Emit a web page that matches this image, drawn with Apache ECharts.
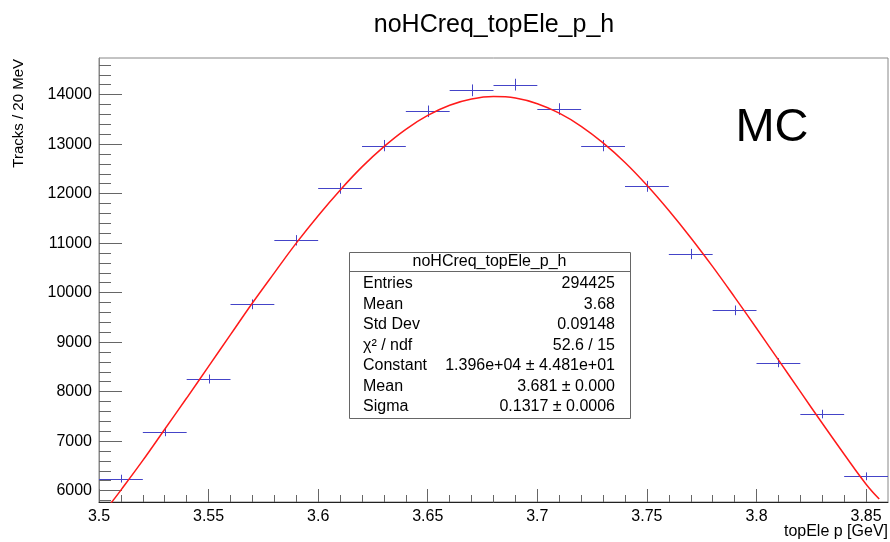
<!DOCTYPE html>
<html><head><meta charset="utf-8">
<script src="https://cdn.jsdelivr.net/npm/echarts@6/dist/echarts.min.js"></script>
<style>html,body{margin:0;padding:0;background:#fff}#c{width:890px;height:542px}</style>
</head><body><div id="c"></div>
<script>
// ---- data ----
const binCenters = [3.51, 3.53, 3.55, 3.57, 3.59, 3.61, 3.63, 3.65, 3.67, 3.69, 3.71, 3.73, 3.75, 3.77, 3.79, 3.81, 3.83, 3.85];
const binWidth = 0.02;
const counts = [6242, 7184, 8255, 9764, 11057, 12107, 12970, 13663, 14087, 14202, 13709, 12970, 12147, 10780, 9642, 8586, 7547, 6289];
const errors = [79, 85, 91, 99, 105, 110, 114, 117, 119, 119, 117, 114, 110, 104, 98, 93, 87, 79];
const fitX = [3.505, 3.51, 3.52, 3.53, 3.54, 3.55, 3.56, 3.57, 3.58, 3.59, 3.60, 3.61, 3.62, 3.63, 3.64, 3.65, 3.66, 3.67, 3.68, 3.69, 3.70, 3.71, 3.72, 3.73, 3.74, 3.75, 3.76, 3.77, 3.78, 3.79, 3.80, 3.81, 3.82, 3.83, 3.84, 3.85, 3.856];
const fitY = [5720, 6010, 6610, 7240, 7870, 8510, 9150, 9790, 10400, 11000, 11555, 12070, 12540, 12950, 13300, 13580, 13785, 13910, 13960, 13930, 13815, 13625, 13360, 13025, 12630, 12170, 11660, 11110, 10525, 9910, 9280, 8640, 8000, 7360, 6735, 6130, 5830];
const xMajorTicks = [3.5, 3.55, 3.6, 3.65, 3.7, 3.75, 3.8, 3.85];
const xMinorTicks = [3.51, 3.52, 3.53, 3.54, 3.56, 3.57, 3.58, 3.59, 3.61, 3.62, 3.63, 3.64, 3.66, 3.67, 3.68, 3.69, 3.71, 3.72, 3.73, 3.74, 3.76, 3.77, 3.78, 3.79, 3.81, 3.82, 3.83, 3.84];
const yMajorTicks = [6000, 7000, 8000, 9000, 10000, 11000, 12000, 13000, 14000];
const yMinorTicks = [5800, 6200, 6400, 6600, 6800, 7200, 7400, 7600, 7800, 8200, 8400, 8600, 8800, 9200, 9400, 9600, 9800, 10200, 10400, 10600, 10800, 11200, 11400, 11600, 11800, 12200, 12400, 12600, 12800, 13200, 13400, 13600, 13800, 14200, 14400, 14600];
const xRange = [3.5, 3.86];
const yRange = [5770, 14740];
const titleText = 'noHCreq_topEle_p_h';
const xTitle = 'topEle p [GeV]';
const yTitle = 'Tracks / 20 MeV';
const statsTitle = 'noHCreq_topEle_p_h';
const statsLabels = ['Entries', 'Mean', 'Std Dev', 'χ² / ndf', 'Constant', 'Mean', 'Sigma'];
const statsValues = ['294425', '3.68', '0.09148', '52.6 / 15', '1.396e+04 ± 4.481e+01', '3.681 ± 0.000', '0.1317 ± 0.0006'];

// ---- chart ----
const FONT = '"Liberation Sans", Arial, Helvetica, sans-serif';
const BLUE = '#4444c8';
const RED = '#ff1a1a';
const chart = echarts.init(document.getElementById('c'), null, {renderer: 'canvas'});

const histData = binCenters.map((c, i) => [c, counts[i], errors[i]]);
const fitData = fitX.map((x, i) => [x, fitY[i]]);

const GL = 99, GT = 58, GW = 789, GH = 444;

const graphics = [];
graphics.push({type: 'text', z: 100, x: 494, y: 25, style: {text: titleText, font: '25px ' + FONT, fill: '#000', align: 'center', verticalAlign: 'middle'}});
graphics.push({type: 'text', z: 100, x: 772, y: 128, style: {text: 'MC', font: '47px ' + FONT, fill: '#000', align: 'center', verticalAlign: 'middle'}});
graphics.push({type: 'text', z: 100, x: 888, y: 532, style: {text: xTitle, font: '16px ' + FONT, fill: '#000', align: 'right', verticalAlign: 'middle'}});
graphics.push({type: 'text', z: 100, x: 19, y: 59, rotation: Math.PI / 2, style: {text: yTitle, font: '15px ' + FONT, fill: '#000', align: 'right', verticalAlign: 'middle'}});
// stats box
const BX = 349, BY = 252, BW = 281, BH = 166;
graphics.push({type: 'rect', z: 100, shape: {x: BX + 0.5, y: BY + 0.5, width: BW, height: BH}, style: {fill: '#fff', stroke: '#666', lineWidth: 1}});
graphics.push({type: 'line', z: 101, shape: {x1: BX, y1: 271.5, x2: BX + BW, y2: 271.5}, style: {stroke: '#666', lineWidth: 1}});
graphics.push({type: 'text', z: 101, x: BX + BW / 2, y: 262, style: {text: statsTitle, font: '16px ' + FONT, fill: '#000', align: 'center', verticalAlign: 'middle'}});
statsLabels.forEach((lab, i) => {
  const y = 284 + i * 20.5;
  graphics.push({type: 'text', z: 101, x: 363, y: y, style: {text: lab, font: '16px ' + FONT, fill: '#000', align: 'left', verticalAlign: 'middle'}});
  graphics.push({type: 'text', z: 101, x: 615, y: y, style: {text: statsValues[i], font: '16px ' + FONT, fill: '#000', align: 'right', verticalAlign: 'middle'}});
});

const option = {
  backgroundColor: '#fff',
  animation: false,
  grid: {left: GL, top: GT, width: GW, height: GH, show: true, borderColor: '#888', borderWidth: 1, containLabel: false},
  xAxis: [{
    type: 'value', min: xRange[0], max: xRange[1], position: 'bottom',
    axisLine: {show: true, onZero: false, lineStyle: {color: '#222', width: 1}},
    axisTick: {show: true, inside: true, length: 13, lineStyle: {color: '#666'}, customValues: xMajorTicks},
    axisLabel: {show: true, margin: 7, color: '#000', fontSize: 16, fontFamily: FONT, customValues: xMajorTicks, formatter: v => String(+v.toFixed(2))},
    splitLine: {show: false}
  }, {
    type: 'value', min: xRange[0], max: xRange[1], position: 'bottom',
    axisLine: {show: false},
    axisTick: {show: true, inside: true, length: 7, lineStyle: {color: '#666'}, customValues: xMinorTicks},
    axisLabel: {show: false},
    splitLine: {show: false}
  }],
  yAxis: [{
    type: 'value', min: yRange[0], max: yRange[1], position: 'left',
    axisLine: {show: true, onZero: false, lineStyle: {color: '#888', width: 1}},
    axisTick: {show: true, inside: true, length: 23, lineStyle: {color: '#666'}, customValues: yMajorTicks},
    axisLabel: {show: true, margin: 7, color: '#000', fontSize: 16, fontFamily: FONT, customValues: yMajorTicks, formatter: v => String(v)},
    splitLine: {show: false}
  }, {
    type: 'value', min: yRange[0], max: yRange[1], position: 'left',
    axisLine: {show: false},
    axisTick: {show: true, inside: true, length: 12, lineStyle: {color: '#666'}, customValues: yMinorTicks},
    axisLabel: {show: false},
    splitLine: {show: false}
  }],
  series: [{
    type: 'custom', name: 'hist', xAxisIndex: 0, yAxisIndex: 0, z: 3,
    data: histData,
    renderItem(params, api) {
      const x = api.value(0), y = api.value(1), e = api.value(2);
      const pL = api.coord([x - binWidth / 2, y]);
      const pR = api.coord([x + binWidth / 2, y]);
      const pT = api.coord([x, y + e]);
      const pB = api.coord([x, y - e]);
      const st = {stroke: BLUE, lineWidth: 1};
      return {type: 'group', children: [
        {type: 'line', shape: {x1: pL[0], y1: Math.round(pL[1]) + 0.5, x2: pR[0], y2: Math.round(pR[1]) + 0.5}, style: st},
        {type: 'line', shape: {x1: Math.round(pT[0]) + 0.5, y1: pT[1], x2: Math.round(pB[0]) + 0.5, y2: pB[1]}, style: st}
      ]};
    }
  }, {
    type: 'line', name: 'fit', xAxisIndex: 0, yAxisIndex: 0, z: 4,
    data: fitData, showSymbol: false, symbol: 'none', smooth: 0.4, clip: true,
    lineStyle: {color: RED, width: 1.5}
  }],
  graphic: graphics
};
chart.setOption(option);
</script>
</body></html>
